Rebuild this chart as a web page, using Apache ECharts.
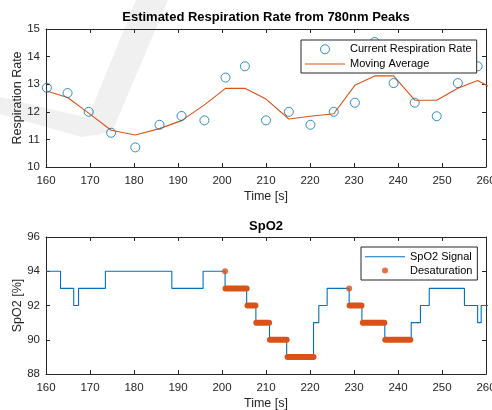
<!DOCTYPE html>
<html>
<head>
<meta charset="utf-8">
<script src="https://cdn.jsdelivr.net/npm/echarts@6/dist/echarts.min.js"></script>
<style>html,body{margin:0;padding:0;background:#fff}#c{width:492px;height:410px}</style>
</head>
<body>
<div id="c"></div>
<script>
// ---- Data ----
const titles = ['Estimated Respiration Rate from 780nm Peaks', 'SpO2'];
const xName = 'Time [s]';
const yNames = ['Respiration Rate', 'SpO2 [%]'];
const xRange = [160, 260, 10];
const yRangeTop = [10, 15, 1];
const yRangeBottom = [88, 96, 2];

const respTime = [160.2, 164.9, 169.7, 174.8, 180.3, 185.8, 190.8, 196.0, 200.8, 205.2, 210.0, 215.2, 220.1, 225.4, 230.2, 234.7, 239.0, 243.8, 248.8, 253.6, 258.1];
const respRate = [12.87, 12.68, 12.0, 11.24, 10.71, 11.53, 11.85, 11.69, 13.24, 13.65, 11.69, 12.0, 11.53, 12.0, 12.33, 14.53, 13.04, 12.33, 11.84, 13.04, 13.65];

const maTime = [160.0, 164.9, 169.7, 174.8, 180.3, 185.8, 190.8, 196.0, 200.8, 205.2, 210.0, 215.2, 220.1, 225.4, 230.2, 234.7, 239.0, 243.8, 248.8, 253.6, 258.1, 262.9];
const maRate = [12.76, 12.52, 11.95, 11.33, 11.16, 11.39, 11.68, 12.25, 12.85, 12.85, 12.46, 11.74, 11.84, 11.93, 12.96, 13.30, 13.30, 12.42, 12.42, 12.85, 13.13, 12.73];

const spo2Time = [160, 163.3, 166.3, 167.4, 173.5, 188.6, 195.7, 200.7, 205.6, 207.7, 210.8, 214.7, 220.8, 222.0, 223.9, 228.9, 231.8, 237.0, 243.0, 245.1, 247.1, 255.1, 258.1, 258.9, 262];
const spo2Val  = [94, 93, 92, 93, 94, 93, 94, 93, 92, 91, 90, 89, 91, 92, 93, 92, 91, 90, 91, 92, 93, 92, 91, 92, 92];

const desatStart = [200.8, 205.8, 207.8, 210.9, 214.9, 229.0, 232.0, 237.1];
const desatEnd   = [205.6, 207.6, 210.7, 214.7, 220.8, 231.7, 236.9, 242.8];
const desatLevel = [93, 92, 91, 90, 89, 92, 91, 90];
const desatPointTime = [200.7, 228.9];
const desatPointVal  = [94, 93];

// ---- Styles ----
const FONT = 'Liberation Sans, Arial, Helvetica, sans-serif';
const AX = '#262626';
const BLUE = '#0072BD';
const ORANGE = '#D95319';
const LINE_ICON = 'path://M0,0 L40,0 L40,1.1 L0,1.1 Z';

const zip = (a, b) => a.map((v, i) => [v, b[i]]);

function xAx(grid, pos, show) {
  return {
    type: 'value', gridIndex: grid, position: pos,
    min: xRange[0], max: xRange[1], interval: xRange[2],
    name: show ? xName : '', nameLocation: 'middle', nameGap: 23, nameMoveOverlap: false,
    nameTextStyle: { color: AX, fontFamily: FONT, fontSize: 12.5 },
    axisLine: { show: true, onZero: false, lineStyle: { color: AX, width: 1 } },
    axisTick: { show: true, inside: true, length: 4, lineStyle: { color: AX } },
    axisLabel: { show: show, color: AX, fontFamily: FONT, fontSize: 11.5, margin: 8, hideOverlap: false },
    splitLine: { show: false }
  };
}
function yAx(grid, pos, show, r, name) {
  return {
    type: 'value', gridIndex: grid, position: pos,
    min: r[0], max: r[1], interval: r[2],
    name: show ? name : '', nameLocation: 'middle', nameGap: 22, nameRotate: 90, nameMoveOverlap: false,
    nameTextStyle: { color: AX, fontFamily: FONT, fontSize: 12.5 },
    axisLine: { show: true, onZero: false, lineStyle: { color: AX, width: 1 } },
    axisTick: { show: true, inside: true, length: 4, lineStyle: { color: AX } },
    axisLabel: { show: show, color: AX, fontFamily: FONT, fontSize: 11.5, margin: 6 },
    splitLine: { show: false }
  };
}

const series = [
  {
    type: 'scatter', name: 'Current Respiration Rate', xAxisIndex: 0, yAxisIndex: 0,
    data: zip(respTime, respRate), symbol: 'circle', symbolSize: 9,
    itemStyle: { color: 'rgba(0,0,0,0)', borderColor: BLUE, borderWidth: 1 },
    emphasis: { disabled: true }, z: 3
  },
  {
    type: 'line', name: 'Moving Average', xAxisIndex: 0, yAxisIndex: 0,
    data: zip(maTime, maRate), symbol: 'none', color: ORANGE,
    lineStyle: { color: ORANGE, width: 1.1 }, emphasis: { disabled: true }, z: 2
  },
  {
    type: 'line', name: 'SpO2 Signal', xAxisIndex: 2, yAxisIndex: 2, step: 'end',
    data: zip(spo2Time, spo2Val), symbol: 'none', color: BLUE,
    lineStyle: { color: BLUE, width: 1.1 }, emphasis: { disabled: true }, z: 2
  },
  {
    type: 'scatter', name: 'Desaturation', xAxisIndex: 2, yAxisIndex: 2,
    data: zip(desatPointTime, desatPointVal), symbol: 'circle', symbolSize: 6,
    itemStyle: { color: ORANGE }, emphasis: { disabled: true }, z: 4
  }
];
desatStart.forEach((s, i) => {
  series.push({
    type: 'line', name: 'Desaturation', xAxisIndex: 2, yAxisIndex: 2,
    data: [[s, desatLevel[i]], [desatEnd[i], desatLevel[i]]], symbol: 'none', color: ORANGE,
    lineStyle: { color: ORANGE, width: 6, cap: 'round' }, emphasis: { disabled: true }, z: 4
  });
});

const option = {
  animation: false,
  backgroundColor: '#fff',
  graphic: [{
    type: 'polygon', z: -10, silent: true,
    shape: { points: [[0, 97], [0, 114], [82, 137], [112, 132], [168, 0], [136, 0], [88, 118]] },
    style: { fill: '#f0f0f0' }
  }],
  title: [
    { text: titles[0], left: 266, top: 11, padding: 0, textAlign: 'center',
      textStyle: { fontFamily: FONT, fontSize: 13, fontWeight: 'bold', color: '#000' } },
    { text: titles[1], left: 266, top: 220, padding: 0, textAlign: 'center',
      textStyle: { fontFamily: FONT, fontSize: 13, fontWeight: 'bold', color: '#000' } }
  ],
  grid: [
    { left: 46, width: 440, top: 29, height: 138, containLabel: false, outerBoundsMode: 'none' },
    { left: 46, width: 440, top: 237, height: 137, containLabel: false, outerBoundsMode: 'none' }
  ],
  xAxis: [xAx(0, 'bottom', true), xAx(0, 'top', false), xAx(1, 'bottom', true), xAx(1, 'top', false)],
  yAxis: [
    yAx(0, 'left', true, yRangeTop, yNames[0]), yAx(0, 'right', false, yRangeTop, ''),
    yAx(1, 'left', true, yRangeBottom, yNames[1]), yAx(1, 'right', false, yRangeBottom, '')
  ],
  legend: [
    {
      data: [{ name: 'Current Respiration Rate', icon: 'circle' }, { name: 'Moving Average', icon: LINE_ICON }],
      left: 301, top: 40, orient: 'vertical', selectedMode: false,
      itemWidth: 40, itemHeight: 9, itemGap: 0.7, padding: [2.3, 5, 2, 4],
      backgroundColor: '#fff', borderColor: AX, borderWidth: 1, borderRadius: 0,
      itemStyle: { borderWidth: 1 },
      textStyle: { fontFamily: FONT, fontSize: 11, color: '#000', lineHeight: 14 }
    },
    {
      data: [{ name: 'SpO2 Signal', icon: LINE_ICON }, { name: 'Desaturation', icon: 'circle' }],
      left: 361, top: 247, orient: 'vertical', selectedMode: false,
      itemWidth: 40, itemHeight: 6, itemGap: 0.7, padding: [3.3, 5, 3, 4],
      backgroundColor: '#fff', borderColor: AX, borderWidth: 1, borderRadius: 0,
      itemStyle: { borderWidth: 0 },
      textStyle: { fontFamily: FONT, fontSize: 11, color: '#000', lineHeight: 13 }
    }
  ],
  series: series
};

const chart = echarts.init(document.getElementById('c'), null, { renderer: 'canvas' });
chart.setOption(option);
</script>
</body>
</html>
